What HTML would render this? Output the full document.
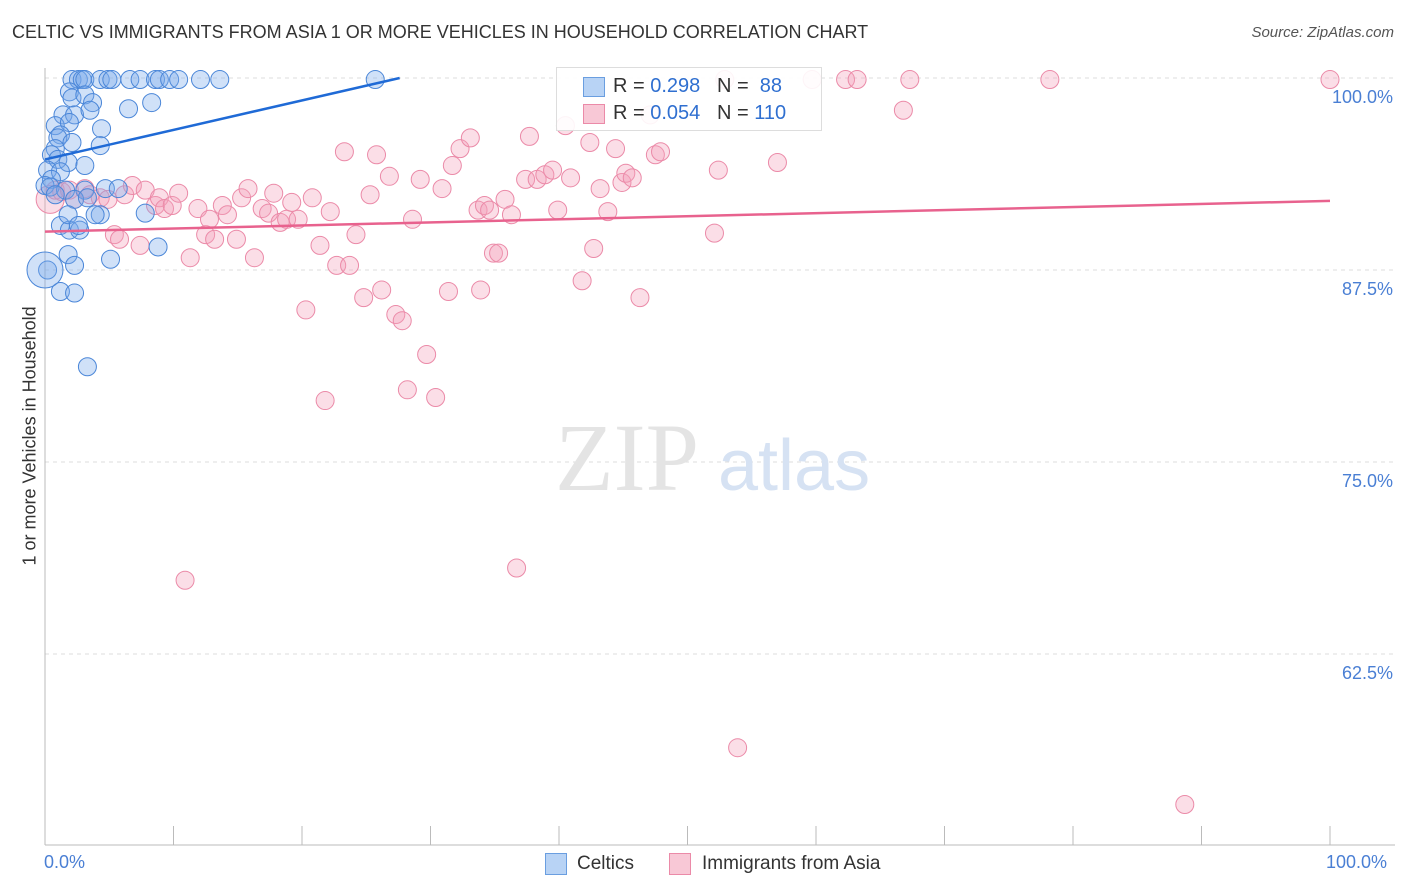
<!DOCTYPE html>
<html><head><meta charset="utf-8"><style>
body{margin:0;background:#fff;font-family:"Liberation Sans",sans-serif;}
#wrap{position:relative;width:1406px;height:892px;overflow:hidden;}
.t{position:absolute;white-space:nowrap;}
</style></head><body>
<div id="wrap">
<div class="t" style="left:12px;top:22px;font-size:18px;color:#333;">CELTIC VS IMMIGRANTS FROM ASIA 1 OR MORE VEHICLES IN HOUSEHOLD CORRELATION CHART</div>
<div class="t" style="right:12px;top:24px;font-size:15px;color:#555;font-style:italic;">Source: ZipAtlas.com</div>
<svg id="svg" width="1406" height="892" style="position:absolute;left:0;top:0"></svg>
</div>
<script>
const blueX=[2.1,2.6,2.9,3.1,4.3,4.9,5.2,6.6,7.4,8.6,8.9,9.7,10.4,12.1,13.6,25.7,1.9,2.1,3.1,3.7,1.4,2.3,3.5,6.5,8.3,0.8,1.9,4.4,1.2,1.0,2.1,4.3,0.8,0.5,1.0,1.8,3.1,0.2,1.2,0.5,0.0,0.4,1.6,3.1,4.7,5.7,0.8,2.3,3.3,4.3,3.9,7.8,1.2,1.9,2.7,1.8,2.6,8.8,1.8,2.3,5.1,0.2,1.2,2.3,3.3,0.0];
const blueY=[99.9,99.9,99.9,99.9,99.9,99.9,99.9,99.9,99.9,99.9,99.9,99.9,99.9,99.9,99.9,99.9,99.1,98.7,98.9,98.4,97.6,97.6,97.9,98.0,98.4,96.9,97.1,96.7,96.3,96.1,95.8,95.6,95.4,95.0,94.7,94.5,94.3,94.0,93.9,93.4,93.0,92.9,92.7,92.7,92.8,92.8,92.4,92.1,92.2,91.1,91.1,91.2,90.4,90.1,90.1,91.1,90.4,89.0,88.5,87.8,88.2,87.5,86.1,86.0,81.2,87.5];
const pinkX=[0.4,0.8,1.3,1.9,2.3,3.1,3.5,4.3,4.9,5.4,5.8,6.2,6.8,7.4,7.8,8.6,8.9,9.3,9.9,10.4,10.9,11.3,11.9,12.5,12.8,13.2,13.8,14.2,14.9,15.3,15.8,16.3,16.9,17.4,17.8,18.3,18.8,19.2,19.7,20.3,20.8,21.4,21.8,22.2,22.7,23.3,23.7,24.2,24.8,25.3,25.8,26.2,26.8,27.3,27.8,28.2,28.6,29.2,29.7,30.4,30.9,31.4,31.7,32.3,33.1,33.7,33.9,34.2,34.6,34.9,35.3,35.8,36.3,36.7,37.4,37.7,38.3,38.9,39.5,39.9,40.5,40.9,41.8,42.4,42.7,43.2,43.8,44.4,44.9,45.2,45.7,46.3,47.1,47.5,47.9,52.1,52.4,52.9,53.9,57.0,59.7,62.3,63.2,66.8,67.3,78.2,88.7,100];
const pinkY=[92.1,92.7,92.6,92.7,92.1,92.8,92.4,92.2,92.1,89.8,89.5,92.4,93.0,89.1,92.7,91.7,92.2,91.5,91.7,92.5,67.3,88.3,91.5,89.8,90.8,89.5,91.7,91.1,89.5,92.2,92.8,88.3,91.5,91.2,92.5,90.6,90.8,91.9,90.8,84.9,92.2,89.1,79.0,91.3,87.8,95.2,87.8,89.8,85.7,92.4,95.0,86.2,93.6,84.6,84.2,79.7,90.8,93.4,82.0,79.2,92.8,86.1,94.3,95.4,96.1,91.4,86.2,91.7,91.4,88.6,88.6,92.1,91.1,68.1,93.4,96.2,93.4,93.7,94.0,91.4,96.9,93.5,86.8,95.8,88.9,92.8,91.3,95.4,93.2,93.8,93.5,85.7,97.6,95.0,95.2,89.9,94.0,99.9,56.4,94.5,99.9,99.9,99.9,97.9,99.9,99.9,52.7,99.9];
const blueLineX=[0,27.6], blueLineY=[94.7,100];
const pinkLineX=[0,100], pinkLineY=[90.0,92.0];
const yTicks=[100,87.5,75,62.5];
const yTickLabels=["100.0%","87.5%","75.0%","62.5%"];
const NS="http://www.w3.org/2000/svg";
const svg=document.getElementById('svg');
const xs=v=>45+v*12.85, ys=v=>78+(100-v)*15.36;
function mk(tag,a){const e=document.createElementNS(NS,tag);for(const k in a)e.setAttribute(k,a[k]);svg.appendChild(e);return e;}
yTicks.forEach((t,i)=>{
 const g=mk('line',{x1:45,x2:1395,y1:ys(t),y2:ys(t),stroke:'#ddd','stroke-dasharray':'4,4'});
 
 
 const l=mk('text',{x:1393,y:ys(t)+25,'text-anchor':'end','font-size':18,fill:'#4a7fd4','font-family':'Liberation Sans'});
 l.textContent=yTickLabels[i];
 
 
});
const ax=mk('line',{x1:45,x2:45,y1:68,y2:845,stroke:'#bbb'});


const bx=mk('line',{x1:45,x2:1395,y1:845,y2:845,stroke:'#bbb'});


for(let i=0;i<=10;i++){const tk=mk('line',{x1:xs(i*10),x2:xs(i*10),y1:826,y2:845,stroke:'#bbb'});
 
 }
const wm=mk('text',{x:555,y:490,'font-size':96,fill:'#e4e4e4','font-family':'Liberation Serif'});wm.textContent='ZIP';


const wm2=mk('text',{x:718,y:490,'font-size':72,fill:'#d6e2f3','font-family':'Liberation Sans'});wm2.textContent='atlas';


pinkX.forEach((x,i)=>{const c=mk('circle',{cx:xs(x),cy:ys(pinkY[i]),r:i==0?14:9,fill:'rgba(244,160,186,0.35)',stroke:'#eb8aa8','stroke-width':1});
 
 });
blueX.forEach((x,i)=>{const c=mk('circle',{cx:xs(x),cy:ys(blueY[i]),r:i==blueX.length-1?18:9,fill:'rgba(120,170,235,0.35)',stroke:'#4a86d8','stroke-width':1});
 
 });
const bl=mk('line',{x1:xs(blueLineX[0]),y1:ys(blueLineY[0]),x2:xs(blueLineX[1]),y2:ys(blueLineY[1]),stroke:'#1f6ad6','stroke-width':2.5});


const pl=mk('line',{x1:xs(pinkLineX[0]),y1:ys(pinkLineY[0]),x2:xs(pinkLineX[1]),y2:ys(pinkLineY[1]),stroke:'#e8628e','stroke-width':2.5});


</script>
<div class="t" style="left:-80px;top:445px;font-size:18px;color:#333;transform:rotate(-90deg);width:220px;text-align:center;">1 or more Vehicles in Household</div>
<div class="t" style="left:44px;top:852px;font-size:18px;color:#4a7fd4;">0.0%</div>
<div class="t" style="left:1326px;top:852px;font-size:18px;color:#4a7fd4;">100.0%</div>
<div style="position:absolute;left:556px;top:67px;width:264px;height:62px;border:1px solid #ddd;background:rgba(255,255,255,0.9);font-size:20px;">
 <div style="position:absolute;left:26px;top:9px;width:20px;height:18px;background:#b8d3f5;border:1px solid #6a9ee0"></div>
 <div class="t" style="left:56px;top:7px;color:#333">R = <span style="color:#2f6fd0">0.298</span>&nbsp;&nbsp;&nbsp;N = &nbsp;<span style="color:#2f6fd0">88</span></div>
 <div style="position:absolute;left:26px;top:36px;width:20px;height:18px;background:#f8c8d6;border:1px solid #eb8aa8"></div>
 <div class="t" style="left:56px;top:34px;color:#333">R = <span style="color:#2f6fd0">0.054</span>&nbsp;&nbsp;&nbsp;N = <span style="color:#2f6fd0">110</span></div>
</div>
<div style="position:absolute;left:545px;top:853px;width:20px;height:20px;background:#b8d3f5;border:1px solid #6a9ee0"></div>
<div class="t" style="left:577px;top:853px;font-size:19px;color:#333;">Celtics</div>
<div style="position:absolute;left:669px;top:853px;width:20px;height:20px;background:#f8c8d6;border:1px solid #eb8aa8"></div>
<div class="t" style="left:702px;top:853px;font-size:19px;color:#333;">Immigrants from Asia</div>
</body></html>
